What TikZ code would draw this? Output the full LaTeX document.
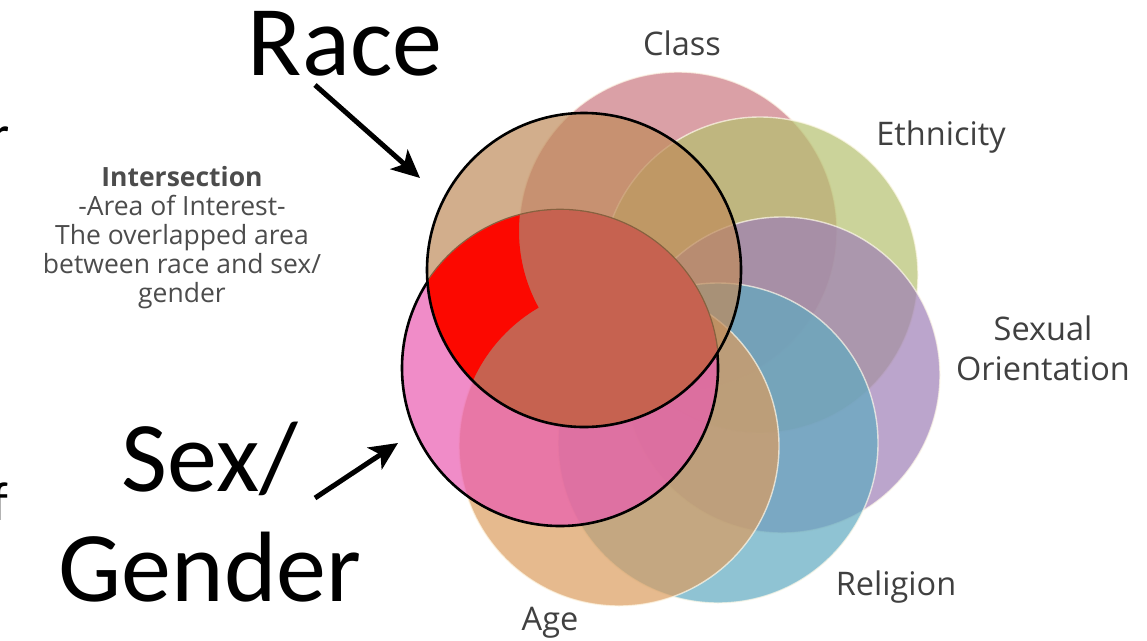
\documentclass[tikz,border=0pt]{standalone}
\usepackage{fontspec}
\setmainfont{Carlito}
\newfontfamily\labelfont{Open Sans}
\usetikzlibrary{arrows.meta,positioning}
\usepackage{xcolor}

\definecolor{classcol}{RGB}{202,119,128}
\definecolor{ethcol}{RGB}{181,192,111}
\definecolor{orientcol}{RGB}{158,127,182}
\definecolor{relcol}{RGB}{95,169,192}
\definecolor{agecol}{RGB}{219,156,94}
\definecolor{racecol}{RGB}{191,139,91}
\definecolor{sexcol}{RGB}{234,91,176}
\definecolor{lenscol}{RGB}{198,98,80}
\definecolor{hotcol}{RGB}{252,8,0}
\definecolor{rimcol}{RGB}{255,250,235}

\begin{document}
\begin{tikzpicture}[
  x=1pt, y=-1pt,
  setcirc/.style={circle, inner sep=0pt, fill opacity=0.7, draw=rimcol, draw opacity=0.7, line width=1.4pt},
  keycirc/.style={circle, inner sep=0pt, fill opacity=0.7, draw=black, line width=2.6pt},
  biglabel/.style={font=\fontsize{100}{110}\selectfont, inner sep=0pt, align=center},
  setlabel/.style={font=\labelfont\fontsize{32.5}{40}\selectfont, text=black!75, inner sep=0pt, align=center},
  note/.style={font=\labelfont\fontsize{26.5}{29}\selectfont, text=black!70, inner sep=0pt, align=center},
  pointer/.style={-{Stealth[length=28pt, width=26pt, inset=7pt]}, line width=5pt}
]
\useasboundingbox (0,0) rectangle (1147,640);

% the outer sets
\node[setcirc, fill=classcol, minimum size=318pt] (classset) at (678,231) {};
\node[setcirc, fill=ethcol, minimum size=316pt] (ethset) at (760,275) {};
\node[setcirc, fill=orientcol, minimum size=316pt] (orientset) at (782,375) {};
\node[setcirc, fill=relcol, minimum size=320pt] (relset) at (718,443) {};
\node[setcirc, fill=agecol, minimum size=320pt] (ageset) at (619,446) {};

% race and sex/gender
\node[keycirc, fill=sexcol, minimum size=316pt] (sexset) at (560,368) {};
\node[keycirc, fill=racecol, draw=none, minimum size=314pt] (raceset) at (584,270) {};

% the intersection
\begin{scope}[even odd rule]
  \clip (raceset.center) circle[radius=157];
  \clip (sexset.center) circle[radius=158];
  \fill[lenscol] (0,0) rectangle (1147,640);
  \clip (0,0) rectangle (1147,640) (classset.center) circle[radius=159];
  \clip (0,0) rectangle (1147,640) (ageset.center) circle[radius=160];
  \fill[hotcol] (0,0) rectangle (1147,640);
\end{scope}
\draw[black, line width=2.6pt] (raceset.center) circle[radius=157];

% labels
\node[biglabel, anchor=base] (race) at (345,75) {Race};
\node[biglabel] (sexlbl) at (210,512) {Sex/\\Gender};
\node[note] (interlbl) at (182,238) {\textbf{Intersection}\\-Area of Interest-\\The overlapped area\\between race and sex/\\gender};
\node[setlabel, anchor=base] (classlbl) at (682,55) {Class};
\node[setlabel, anchor=base] (ethlbl) at (941,145) {Ethnicity};
\node[setlabel] (orientlbl) at (1043,348) {Sexual\\Orientation};
\node[setlabel, anchor=base] (rellbl) at (896,595) {Religion};
\node[setlabel, anchor=base] (agelbl) at (550,630) {Age};
\node[font=\fontsize{55}{60}\selectfont, anchor=base east, inner sep=0pt] (cutr) at (10,153) {r};
\node[font=\fontsize{55}{60}\selectfont, anchor=base east, inner sep=0pt] (cutf) at (8,520) {f};

% arrows
\coordinate (racefrom) at (315,85);
\coordinate (raceto) at (420,178);
\coordinate (sexfrom) at (315,498);
\coordinate (sexto) at (398,443);
\draw[pointer] (racefrom) -- (raceto);
\draw[pointer] (sexfrom) -- (sexto);

\end{tikzpicture}
\end{document}
